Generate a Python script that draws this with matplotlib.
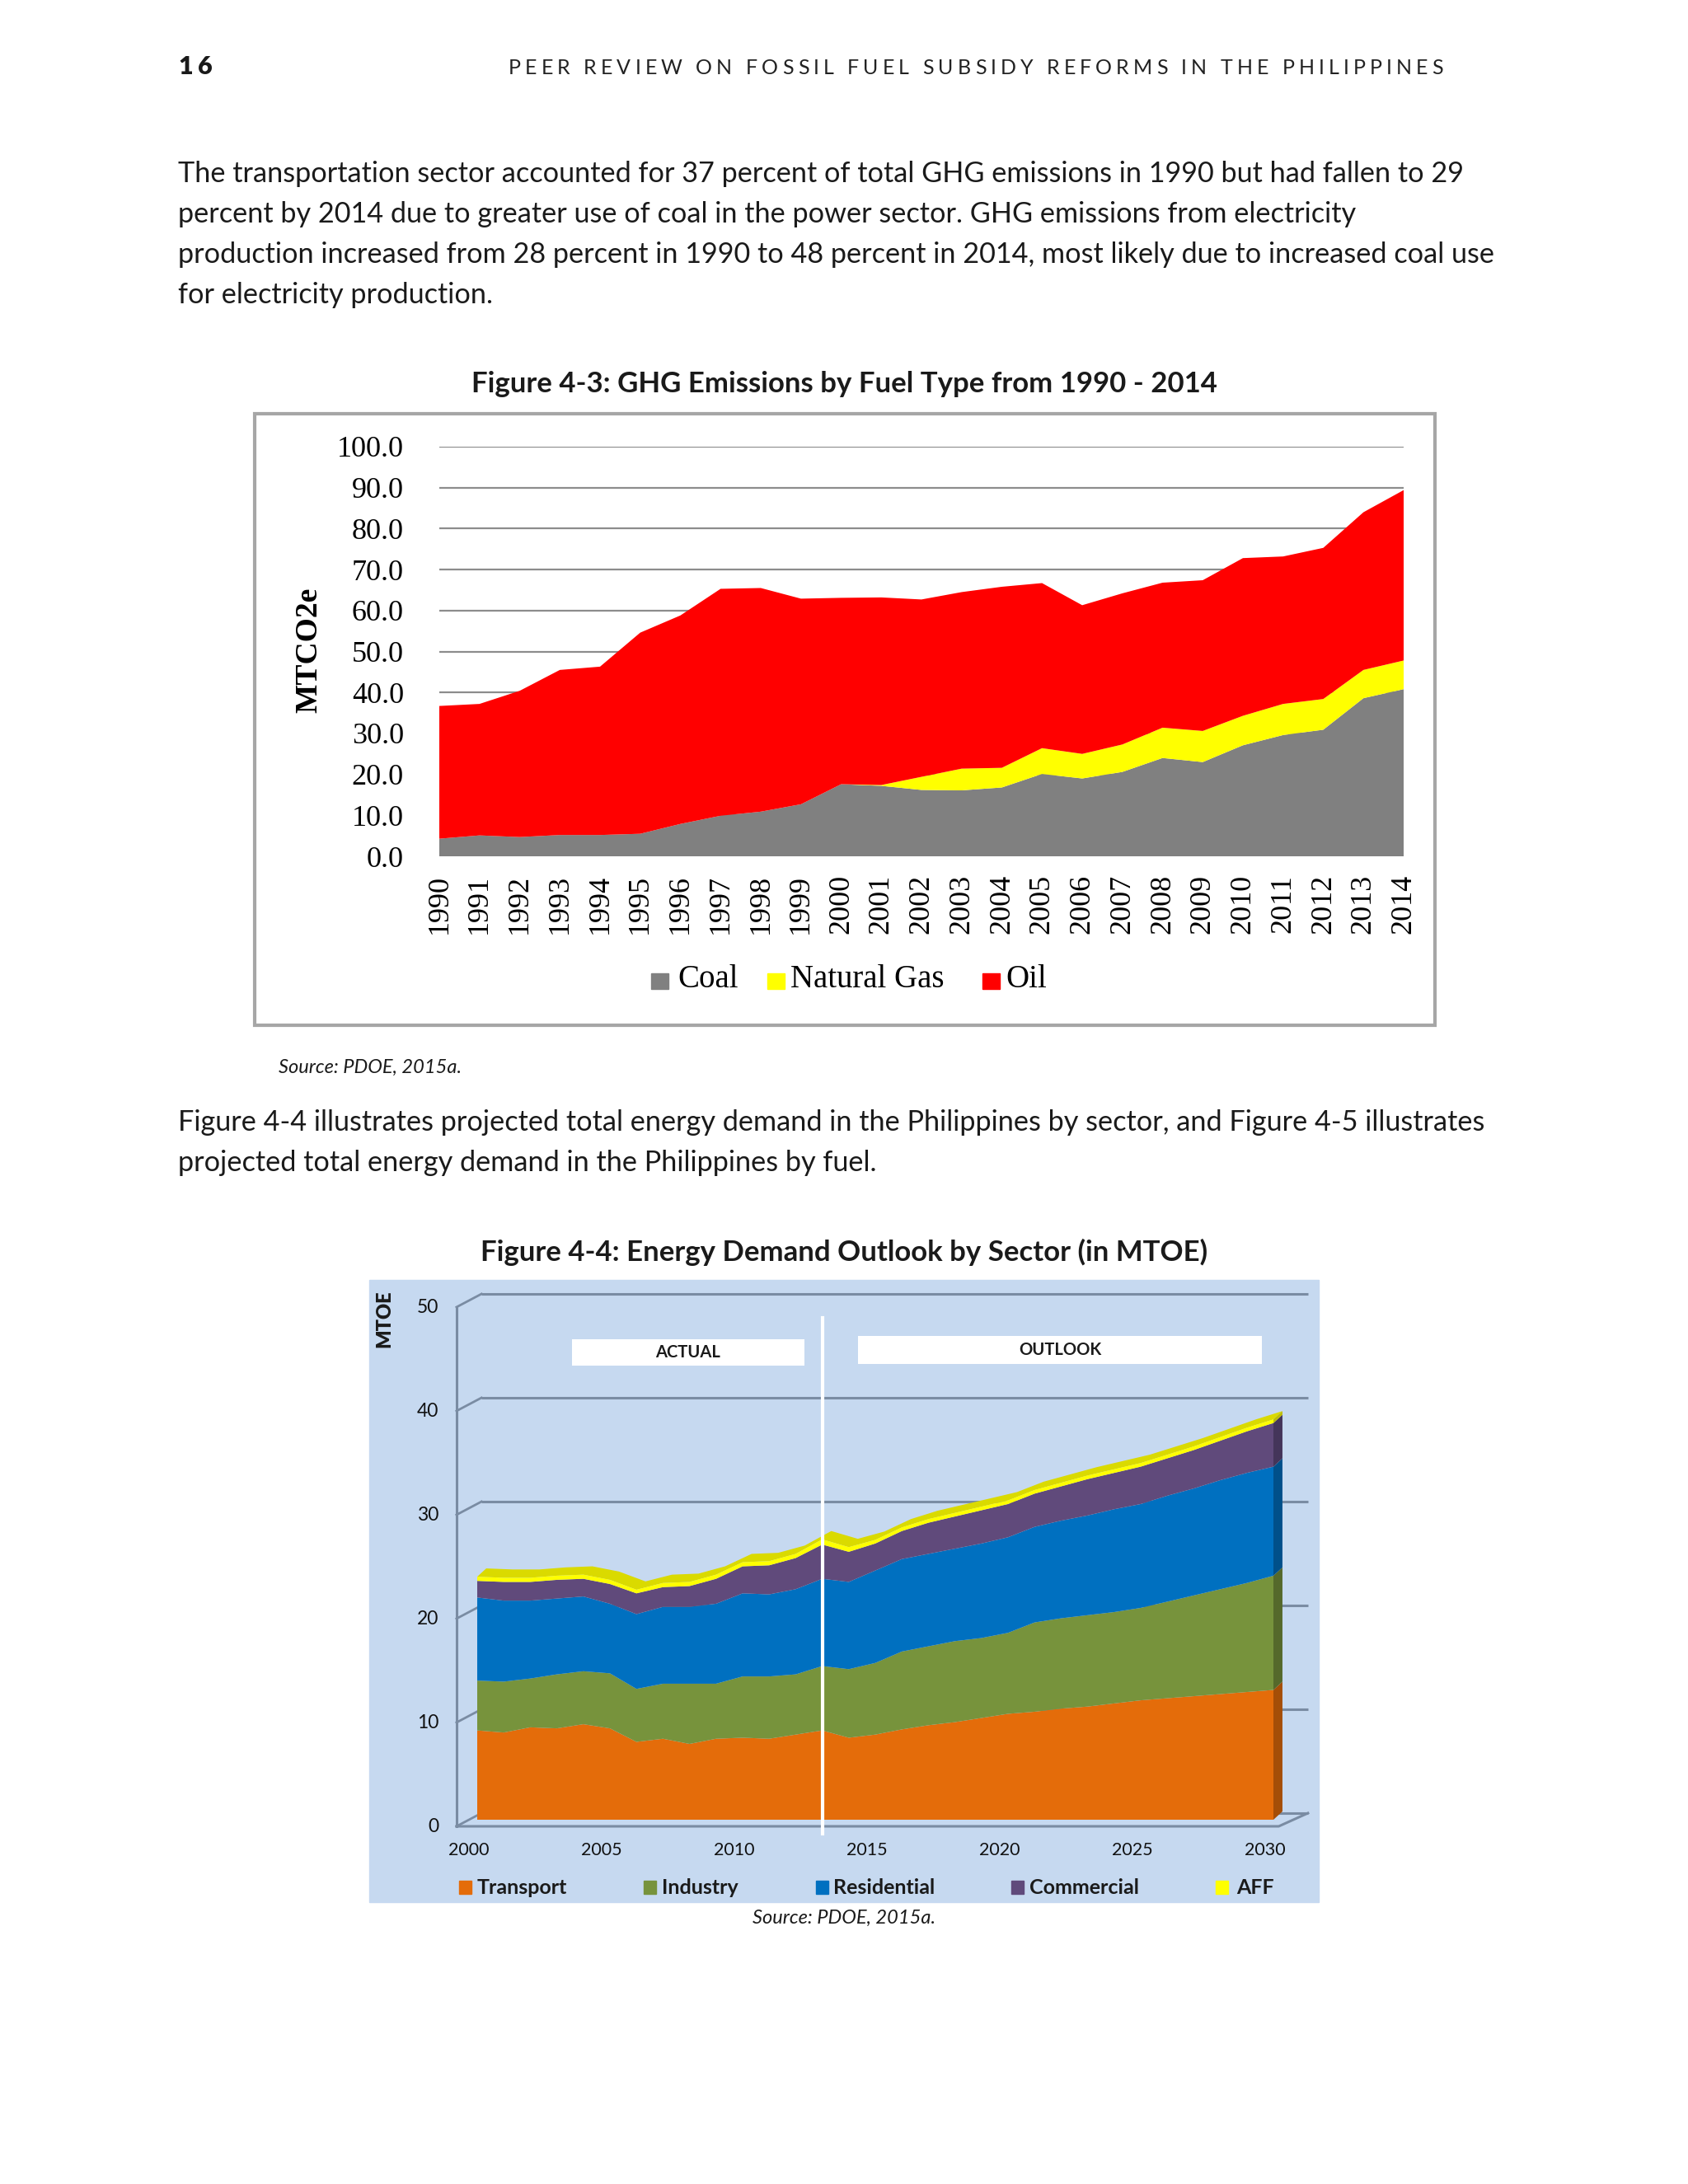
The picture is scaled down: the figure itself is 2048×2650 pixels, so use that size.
import matplotlib
matplotlib.use("Agg")
import matplotlib.pyplot as plt
from matplotlib.patches import Rectangle, Polygon
import numpy as np

# ---------------- data: Figure 4-3 ----------------
ghg_years = list(range(1990, 2015))
coal = [4.3, 5.1, 4.7, 5.2, 5.2, 5.5, 7.9, 9.9, 10.9, 12.7, 17.6, 17.2, 16.2,
        16.1, 16.8, 20.1, 19.0, 20.6, 24.0, 23.0, 27.1, 29.6, 30.9, 38.6, 40.8]
natural_gas = [0, 0, 0, 0, 0, 0, 0, 0, 0, 0, 0, 0.2, 3.2, 5.3, 4.8, 6.3, 6.0,
               6.7, 7.4, 7.6, 7.2, 7.6, 7.5, 6.9, 7.0]
oil = [32.4, 32.1, 35.7, 40.3, 41.1, 49.1, 50.9, 55.4, 54.6, 50.2, 45.5, 45.8,
       43.3, 43.1, 44.2, 40.3, 36.3, 36.9, 35.4, 36.8, 38.5, 36.0, 36.9, 38.5, 41.6]
ghg_labels = ["Coal", "Natural Gas", "Oil"]
ghg_yticks = [0, 10, 20, 30, 40, 50, 60, 70, 80, 90, 100]

# ---------------- data: Figure 4-4 ----------------
ed_years = list(range(2000, 2031))
transport = [8.6, 8.4, 8.9, 8.8, 9.2, 8.8, 7.5, 7.8, 7.3, 7.8, 7.9, 7.8, 8.2, 8.6,
             7.9, 8.2, 8.7, 9.1, 9.4, 9.8, 10.2, 10.4, 10.7, 10.9, 11.2, 11.5,
             11.7, 11.9, 12.1, 12.3, 12.5]
industry = [4.8, 4.9, 4.7, 5.2, 5.1, 5.3, 5.1, 5.3, 5.8, 5.3, 5.9, 6.0, 5.8, 6.2,
            6.6, 6.9, 7.5, 7.6, 7.8, 7.7, 7.8, 8.6, 8.7, 8.8, 8.8, 8.9, 9.3, 9.7,
            10.1, 10.5, 11.0]
residential = [8.0, 7.8, 7.5, 7.3, 7.2, 6.7, 7.2, 7.4, 7.4, 7.7, 8.0, 7.9, 8.2,
               8.4, 8.4, 8.9, 8.9, 8.9, 8.9, 9.1, 9.2, 9.2, 9.4, 9.6, 9.9, 10.0,
               10.2, 10.3, 10.5, 10.6, 10.5]
commercial = [1.6, 1.8, 1.8, 1.8, 1.7, 1.9, 2.0, 1.9, 2.0, 2.4, 2.6, 2.8, 3.0, 3.3,
              2.9, 2.6, 2.7, 3.0, 3.1, 3.2, 3.2, 3.2, 3.3, 3.5, 3.5, 3.6, 3.6, 3.7,
              3.8, 4.0, 4.2]
aff = [0.4, 0.4, 0.4, 0.4, 0.4, 0.4, 0.35, 0.4, 0.4, 0.4, 0.4, 0.4, 0.4, 0.5,
       0.45, 0.35, 0.35, 0.35, 0.35, 0.35, 0.35, 0.35, 0.35, 0.35, 0.35, 0.35,
       0.35, 0.35, 0.35, 0.35, 0.35]
ed_labels = ["Transport", "Industry", "Residential", "Commercial", "AFF"]
ed_yticks = [0, 10, 20, 30, 40, 50]
ed_xticks = [2000, 2005, 2010, 2015, 2020, 2025, 2030]

W, H = 2048, 2650
fig = plt.figure(figsize=(W / 100, H / 100), dpi=100)
fig.patch.set_facecolor("white")
renderer = fig.canvas.get_renderer()

def fx(x):
    return x / W

def fy(y):
    return 1 - y / H

BODY = "Lato"
SERIF = "Liberation Serif"

def text_w(s, **kw):
    t = fig.text(0, 0, s + "|", **kw)
    w1 = t.get_window_extent(renderer).width
    t.remove()
    t = fig.text(0, 0, "|", **kw)
    w0 = t.get_window_extent(renderer).width
    t.remove()
    return w1 - w0

def tracked(x, y, s, target_w=None, track=0.0, **kw):
    widths = [text_w(s[:i], **kw) if i else 0.0 for i in range(len(s) + 1)]
    if target_w is not None:
        track = (target_w - widths[-1]) / (len(s) - 1)
    for i, ch in enumerate(s):
        if ch != " ":
            fig.text(fx(x + widths[i] + i * track), fy(y), ch, va="center",
                     ha="left", **kw)

# ---------------- page header ----------------
tracked(216, 81, "16", track=6, fontsize=22, fontweight="heavy", family=BODY,
        color="#1a1a1a")
tracked(617, 83, "PEER REVIEW ON FOSSIL FUEL SUBSIDY REFORMS IN THE PHILIPPINES",
        target_w=1134, fontsize=18, family=BODY, color="#222222")

body_kw = dict(fontsize=24.7, family=BODY, color="#1a1a1a", va="center", ha="left")
para1 = [
    "The transportation sector accounted for 37 percent of total GHG emissions in 1990 but had fallen to 29",
    "percent by 2014 due to greater use of coal in the power sector. GHG emissions from electricity",
    "production increased from 28 percent in 1990 to 48 percent in 2014, most likely due to increased coal use",
    "for electricity production.",
]
for i, line in enumerate(para1):
    fig.text(fx(216), fy(211 + 49 * i), line, **body_kw)

fig.text(fx(1024), fy(466), "Figure 4-3: GHG Emissions by Fuel Type from 1990 - 2014",
         fontsize=25, fontweight="bold", family=BODY, ha="center", va="center",
         color="#1a1a1a")

# ---------------- Figure 4-3 chart ----------------
fig.patches.append(Rectangle((fx(309), fy(1244)), fx(1741) - fx(309), fy(502) - fy(1244),
                             transform=fig.transFigure, fill=False,
                             edgecolor="#A6A6A6", linewidth=3, zorder=-5))
ax1 = fig.add_axes([fx(533), fy(1039), fx(1703) - fx(533), fy(542) - fy(1039)])
ax1.stackplot(ghg_years, coal, natural_gas, oil,
              colors=["#808080", "#FFFF00", "#FF0000"], linewidth=0, labels=ghg_labels)
ax1.set_xlim(1990, 2014)
ax1.set_ylim(0, 100)
ax1.set_yticks(ghg_yticks)
ax1.set_yticklabels([f"{v:.1f}" for v in ghg_yticks], family=SERIF, fontsize=26)
ax1.set_xticks(ghg_years)
ax1.set_xticklabels([str(y) for y in ghg_years], rotation=90, family=SERIF, fontsize=26)
ax1.tick_params(axis="y", length=0, pad=31)
ax1.tick_params(axis="x", length=0, pad=16)
ax1.grid(axis="y", color="#8C8C8C", linewidth=1.6)
ax1.set_axisbelow(True)
for sp in ax1.spines.values():
    sp.set_visible(False)
ax1.set_facecolor("white")

fig.text(fx(375), fy(789), "MTCO2e", rotation=90, family=SERIF, fontsize=27,
         fontweight="bold", ha="center", va="center")

leg1 = [(790, 822, "#808080", ghg_labels[0]),
        (931, 959, "#FFFF00", ghg_labels[1]),
        (1192, 1220, "#FF0000", ghg_labels[2])]
for sx, tx, col, lab in leg1:
    fig.patches.append(Rectangle((fx(sx), fy(1200)), 21 / W, 19 / H,
                                 transform=fig.transFigure, color=col, zorder=2))
    fig.text(fx(tx), fy(1188), lab, family=SERIF, fontsize=28, ha="left", va="center")

fig.text(fx(338), fy(1295), "Source: PDOE, 2015a.", fontsize=17, style="italic",
         family=BODY, ha="left", va="center", color="#1a1a1a")

para2 = [
    "Figure 4-4 illustrates projected total energy demand in the Philippines by sector, and Figure 4-5 illustrates",
    "projected total energy demand in the Philippines by fuel.",
]
for i, line in enumerate(para2):
    fig.text(fx(216), fy(1362 + 49 * i), line, **body_kw)

fig.text(fx(1024), fy(1519), "Figure 4-4: Energy Demand Outlook by Sector (in MTOE)",
         fontsize=25, fontweight="bold", family=BODY, ha="center", va="center",
         color="#1a1a1a")

# ---------------- Figure 4-4 chart ----------------
fig.patches.append(Rectangle((fx(448), fy(2308)), fx(1600) - fx(448), fy(1553) - fy(2308),
                             transform=fig.transFigure, color="#C6D9F0", zorder=-10))
ax2 = fig.add_axes([fx(579), fy(2208), fx(1545) - fx(579), fy(1578) - fy(2208)])
ax2.set_zorder(1)
ax2.set_xlim(2000, 2030)
ax2.set_ylim(0, 50)
ax2.axis("off")
ax2.patch.set_alpha(0)

grid_c = "#7A8CA3"
x_front, x_back, x_back_end = 1999.22, 2000.16, 2031.3
d_front, d_back = -0.635, 0.635
for v in ed_yticks:
    ax2.plot([x_back, x_back_end], [v + d_back, v + d_back], color=grid_c, lw=2.2,
             zorder=1, clip_on=False, solid_capstyle="butt")
    ax2.plot([x_front, x_back], [v + d_front, v + d_back], color=grid_c, lw=2,
             zorder=1, clip_on=False)
    ax2.text(1998.55, v + d_front, str(v), family=BODY, fontsize=16.5, ha="right",
             va="center", color="#111111", clip_on=False)
ax2.plot([x_front, x_front], [d_front, 50 + d_front], color=grid_c, lw=2.2, zorder=1,
         clip_on=False)
ax2.plot([x_front, 2030.2, x_back_end], [d_front, d_front, d_back], color=grid_c,
         lw=2.2, zorder=1, clip_on=False)

yrs = np.array(ed_years, dtype=float)
series = [transport, industry, residential, commercial, aff]
front_cols = ["#E46C0A", "#77933C", "#0070C0", "#604A7B", "#FFFF00"]
side_cols = ["#A54E07", "#55692B", "#00508A", "#44355A", "#BDBD00"]
ddx, ddy = 0.34, 0.8
stack = np.cumsum(np.array(series), axis=0)
cum = np.vstack([np.zeros(len(yrs)), stack])
total = cum[-1]
# top face (depth)
top_poly = np.column_stack([np.concatenate([yrs, yrs[::-1] + ddx]),
                            np.concatenate([total, total[::-1] + ddy])])
ax2.add_patch(Polygon(top_poly, closed=True, facecolor="#DADA00", edgecolor="none",
                      zorder=2, clip_on=False))
# right side faces
for i in range(len(series)):
    b, t = cum[i][-1], cum[i + 1][-1]
    ax2.add_patch(Polygon([(2030, b), (2030, t), (2030 + ddx, t + ddy),
                           (2030 + ddx, b + ddy)], closed=True,
                          facecolor=side_cols[i], edgecolor="none", zorder=2,
                          clip_on=False))
ax2.stackplot(yrs, *series, colors=front_cols, linewidth=0, zorder=3, labels=ed_labels)

ax2.plot([2013.0, 2013.0], [-1.35, 48.3], color="white", lw=3, zorder=4, clip_on=False)

ax2.add_patch(Rectangle((2003.57, 43.73), 2012.33 - 2003.57, 46.27 - 43.73,
                        facecolor="white", edgecolor="none", zorder=5, clip_on=False))
ax2.text((2003.57 + 2012.33) / 2, 45.0, "ACTUAL", family=BODY, fontsize=14.5,
         fontweight="bold", ha="center", va="center", color="#1a1a1a", zorder=6)
ax2.add_patch(Rectangle((2014.35, 43.89), 2029.57 - 2014.35, 46.59 - 43.89,
                        facecolor="white", edgecolor="none", zorder=5, clip_on=False))
ax2.text((2014.35 + 2029.57) / 2, 45.24, "OUTLOOK", family=BODY, fontsize=14.5,
         fontweight="bold", ha="center", va="center", color="#1a1a1a", zorder=6)

for yv in ed_xticks:
    ax2.text(yv - 0.33, -2.94, str(yv), family=BODY, fontsize=15.5, ha="center",
             va="center", color="#111111", clip_on=False)

fig.text(fx(466), fy(1600), "MTOE", rotation=90, family=BODY, fontsize=17,
         fontweight="heavy", ha="center", va="center", color="#1a1a1a")

leg2 = [(557, 579), (781, 803), (990, 1011), (1227, 1249), (1475, 1500)]
for (sx, tx), col, lab in zip(leg2, front_cols, ed_labels):
    fig.patches.append(Rectangle((fx(sx), fy(2298)), 15 / W, 16 / H,
                                 transform=fig.transFigure, color=col, zorder=2))
    fig.text(fx(tx), fy(2290), lab, family=BODY, fontsize=18, fontweight="bold",
             ha="left", va="center", color="#1a1a1a")

fig.text(fx(1024), fy(2327), "Source: PDOE, 2015a.", fontsize=17, style="italic",
         family=BODY, ha="center", va="center", color="#1a1a1a")

fig.savefig("out.png", dpi=100, facecolor="white")
